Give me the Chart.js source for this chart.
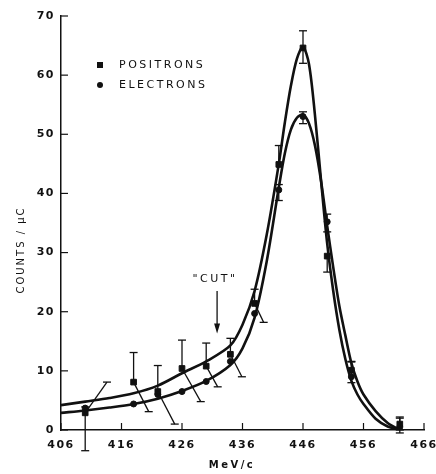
<!DOCTYPE html>
<html>
<head>
<meta charset="utf-8">
<script src="https://cdn.jsdelivr.net/npm/chart.js@4"></script>
<style>
  html, body { margin: 0; padding: 0; background: #fff; }
  #wrap { width: 436px; height: 474px; }
</style>
</head>
<body>
<div id="wrap"><canvas id="spectrum"></canvas></div>
<script>
// measured points (MeV/c, counts per microcoulomb)
const momentum = [410, 418, 422, 426, 430, 434, 438, 442, 446, 450, 454, 462];
const positrons = [2.9, 8.1, 6.5, 10.4, 10.8, 12.8, 21.4, 44.9, 64.6, 29.4, 10.1, 1.0];
const electrons = [3.7, 4.4, 6.0, 6.5, 8.2, 11.6, 19.7, 40.6, 53.0, 35.2, 9.0, 0.5];

// error bars: vertical part, and the slanted part drawn off to the side
const posBarTop = [3.9, 13.1, 10.9, 15.2, 14.7, 15.5, 23.8, 48.1, 67.5, 29.4, 11.6, 2.2];
const posBarBottom = [-3.5, 8.1, 6.5, 10.4, 10.8, 12.8, 21.4, 44.9, 62.0, 26.7, 10.1, 0];
const posSlantX = [413.6, 420.5, 424.8, 429.1, 431.9, 435.9, 439.5, null, null, null, null, null];
const posSlantY = [8.1, 3.1, 1.0, 4.8, 7.3, 9.0, 18.2, null, null, null, null, null];
const eleBarTop = [null, null, null, null, null, null, null, 41.5, 53.8, 36.5, 11.5, 2.0];
const eleBarBottom = [null, null, null, null, null, null, null, 38.8, 51.8, 33.5, 8.0, -0.5];

// fitted curves
const fitX = [406, 410, 414, 418, 422, 426, 430, 434, 436, 438, 440, 442, 443, 444, 445, 446, 447, 448, 449, 450, 451, 452, 453, 454, 455, 456, 458, 460, 462];
const posFit = [4.2, 4.8, 5.4, 6.2, 7.5, 9.6, 11.6, 14.3, 17.8, 23.5, 33.0, 45.0, 52.0, 58.2, 62.8, 64.8, 61.8, 53.0, 42.0, 31.5, 23.5, 17.0, 12.0, 8.3, 6.0, 4.4, 1.9, 0.6, 0];
const eleFit = [2.9, 3.3, 3.8, 4.4, 5.3, 6.6, 8.3, 11.0, 13.8, 19.0, 28.5, 41.0, 46.8, 50.8, 52.8, 53.3, 51.8, 48.0, 42.0, 34.5, 27.5, 21.0, 16.0, 11.3, 8.2, 6.0, 3.2, 1.2, 0];

const xTicks = [406, 416, 426, 436, 446, 456, 466];
const yTicks = [0, 10, 20, 30, 40, 50, 60, 70];
const seriesNames = ["POSITRONS", "ELECTRONS"];
const cutLabel = '"CUT"';
const cutAt = 431.8;

const ink = "#111";
const font = "'DejaVu Sans', sans-serif";

const pts = (xs, ys) => xs.map((x, i) => ({ x: x, y: ys[i] }));

const paperPlugin = {
  id: "paper",
  beforeDraw(chart) {
    chart.ctx.letterSpacing = "1.5px";
  },
  afterDatasetsDraw(chart) {
    const ctx = chart.ctx;
    const xs = chart.scales.x;
    const ys = chart.scales.y;
    const area = chart.chartArea;
    ctx.save();
    ctx.strokeStyle = ink;
    ctx.fillStyle = ink;
    ctx.lineWidth = 1.3;

    const cap = (px, py) => {
      ctx.beginPath();
      ctx.moveTo(px - 4, py);
      ctx.lineTo(px + 4, py);
      ctx.stroke();
    };
    const bar = (x, lo, hi, mark) => {
      const px = xs.getPixelForValue(x);
      ctx.beginPath();
      ctx.moveTo(px, ys.getPixelForValue(lo));
      ctx.lineTo(px, ys.getPixelForValue(hi));
      ctx.stroke();
      if (Math.abs(hi - mark) > 0.5) cap(px, ys.getPixelForValue(hi));
      if (Math.abs(lo - mark) > 0.5) cap(px, ys.getPixelForValue(lo));
    };

    momentum.forEach((m, i) => {
      bar(m, posBarBottom[i], posBarTop[i], positrons[i]);
      if (posSlantX[i] != null) {
        const ex = xs.getPixelForValue(posSlantX[i]);
        const ey = ys.getPixelForValue(posSlantY[i]);
        ctx.beginPath();
        ctx.moveTo(xs.getPixelForValue(m), ys.getPixelForValue(positrons[i]));
        ctx.lineTo(ex, ey);
        ctx.stroke();
        cap(ex, ey);
      }
      if (eleBarTop[i] != null) bar(m, eleBarBottom[i], eleBarTop[i], electrons[i]);
    });

    // inward tick marks
    ctx.lineWidth = 1.2;
    yTicks.forEach((v) => {
      const py = ys.getPixelForValue(v);
      ctx.beginPath();
      ctx.moveTo(area.left, py);
      ctx.lineTo(area.left + 7, py);
      ctx.stroke();
    });
    xTicks.forEach((v) => {
      const px = xs.getPixelForValue(v);
      ctx.beginPath();
      ctx.moveTo(px, area.bottom);
      ctx.lineTo(px, area.bottom - 7);
      ctx.stroke();
    });

    // legend
    ctx.font = "11px " + font;
    ctx.letterSpacing = "2.5px";
    ctx.textBaseline = "middle";
    ctx.textAlign = "left";
    const lx = area.left + 39;
    const ly = area.top + 49;
    ctx.fillRect(lx - 3, ly - 3, 6, 6);
    ctx.fillText(seriesNames[0], lx + 19, ly);
    ctx.beginPath();
    ctx.arc(lx, ly + 20, 3, 0, Math.PI * 2);
    ctx.fill();
    ctx.fillText(seriesNames[1], lx + 19, ly + 20);

    // "CUT" marker
    const cx = xs.getPixelForValue(cutAt);
    const top = ys.getPixelForValue(23.5);
    const tip = ys.getPixelForValue(16.3);
    ctx.textAlign = "center";
    ctx.fillText(cutLabel, cx - 2, top - 12);
    ctx.lineWidth = 1.3;
    ctx.beginPath();
    ctx.moveTo(cx, top);
    ctx.lineTo(cx, tip - 6);
    ctx.stroke();
    ctx.beginPath();
    ctx.moveTo(cx - 3, tip - 10);
    ctx.lineTo(cx + 3, tip - 10);
    ctx.lineTo(cx, tip);
    ctx.closePath();
    ctx.fill();

    // axis titles
    ctx.font = "bold 10px " + font;
    ctx.letterSpacing = "2.5px";
    ctx.fillText("MeV/c", 232, 465);
    ctx.save();
    ctx.translate(21, 250);
    ctx.rotate(-Math.PI / 2);
    ctx.font = "10px " + font;
    ctx.letterSpacing = "2px";
    ctx.fillText("COUNTS / μC", 0, 0);
    ctx.restore();
    ctx.restore();
  },
};

const fitLine = (label, ys) => ({
  label: label,
  data: pts(fitX, ys),
  showLine: true,
  borderColor: ink,
  borderWidth: 2.6,
  pointRadius: 0,
  tension: 0.3,
});

new Chart(document.getElementById("spectrum"), {
  type: "scatter",
  data: {
    datasets: [
      fitLine("positron fit", posFit),
      fitLine("electron fit", eleFit),
      {
        label: seriesNames[0],
        data: pts(momentum, positrons),
        pointStyle: "rect",
        pointRadius: 4,
        backgroundColor: ink,
        borderColor: ink,
      },
      {
        label: seriesNames[1],
        data: pts(momentum, electrons),
        pointStyle: "circle",
        pointRadius: 3,
        backgroundColor: ink,
        borderColor: ink,
      },
    ],
  },
  options: {
    responsive: true,
    maintainAspectRatio: false,
    animation: false,
    layout: { padding: { top: 16, right: 12, left: 0, bottom: 0 } },
    plugins: { legend: { display: false }, tooltip: { enabled: false } },
    scales: {
      x: {
        type: "linear",
        min: 406,
        max: 466,
        afterBuildTicks: (scale) => {
          scale.ticks = xTicks.map((v) => ({ value: v }));
        },
        afterFit: (scale) => {
          scale.height = 44;
          scale.paddingLeft = 0;
          scale.paddingRight = 0;
        },
        ticks: { color: ink, padding: 9, font: { family: font, size: 11, weight: "bold" } },
        grid: { display: true, drawOnChartArea: false, drawTicks: false },
        border: { display: true, color: ink, width: 1.5 },
      },
      y: {
        min: 0,
        max: 70,
        afterBuildTicks: (scale) => {
          scale.ticks = yTicks.map((v) => ({ value: v }));
        },
        afterFit: (scale) => {
          scale.width = 61;
          scale.paddingTop = 0;
          scale.paddingBottom = 0;
        },
        ticks: { color: ink, padding: 6, font: { family: font, size: 11, weight: "bold" } },
        grid: { display: true, drawOnChartArea: false, drawTicks: false },
        border: { display: true, color: ink, width: 1.5 },
      },
    },
  },
  plugins: [paperPlugin],
});
</script>
</body>
</html>
